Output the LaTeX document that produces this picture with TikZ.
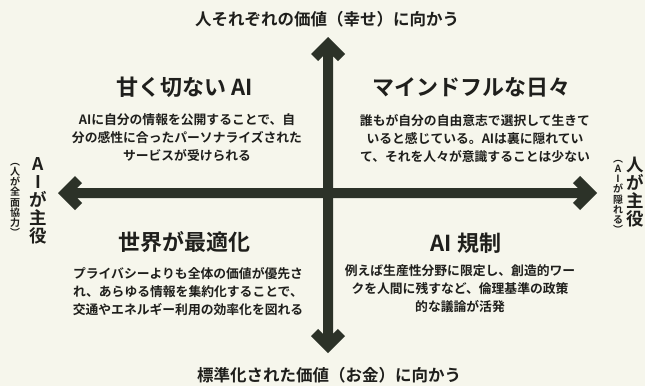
\documentclass[tikz,border=0pt]{standalone}
\usepackage{fontspec}
\setmainfont{Noto Sans CJK JP}[UprightFont=* Bold]
\usetikzlibrary{calc}
\definecolor{paper}{HTML}{F6F6EC}
\definecolor{ink}{HTML}{1F1F1C}
\definecolor{axisc}{HTML}{2C3228}
\tikzset{
  axisfill/.style={fill=axisc},
  axislabel/.style={text=ink, font=\fontsize{16.5}{18}\selectfont, inner sep=0pt},
  qtitle/.style={text=ink, font=\fontsize{22}{24}\selectfont, inner sep=0pt},
  qbody/.style={text=ink, font=\fontsize{12.8}{18}\selectfont, align=center, inner sep=0pt},
  sidebig/.style={text=ink, font=\fontsize{17.5}{18}\selectfont, align=center, inner sep=0pt},
  sidesmall/.style={text=ink, font=\fontsize{10}{10.2}\selectfont, align=center, inner sep=0pt},
}
\begin{document}
\begin{tikzpicture}[x=1pt, y=-1pt]
\fill[paper] (0,0) rectangle (645,386);
\useasboundingbox (0,0) rectangle (645,386);

% axis end points
\coordinate (N) at (328,37);
\coordinate (S) at (328,353);
\coordinate (W) at (58,193);
\coordinate (E) at (597,193);

% vertical axis arrow
\fill[axisfill] (N) -- ++(17,17) -- ++(-7.07,7.07) -- ($(N)+(5,19.14)$)
  -- ($(S)+(5,-19.14)$) -- ++(4.93,-4.93) -- ++(7.07,7.07) -- (S)
  -- ++(-17,-17) -- ++(7.07,-7.07) -- ($(S)+(-5,-19.14)$)
  -- ($(N)+(-5,19.14)$) -- ++(-4.93,4.93) -- ++(-7.07,-7.07) -- cycle;

% horizontal axis arrow
\fill[axisfill] (W) -- ++(17,-17) -- ++(7.07,7.07) -- ($(W)+(19.14,-5)$)
  -- ($(E)+(-19.14,-5)$) -- ++(-4.93,-4.93) -- ++(7.07,-7.07) -- (E)
  -- ++(-17,17) -- ++(-7.07,-7.07) -- ($(E)+(-19.14,5)$)
  -- ($(W)+(19.14,5)$) -- ++(4.93,4.93) -- ++(-7.07,7.07) -- cycle;

% axis labels
\node[axislabel] (top) at (327,19) {人それぞれの価値（幸せ）に向かう};
\node[axislabel] (bottom) at (329,375) {標準化された価値（お金）に向かう};

\node[sidebig] (leftbig) at (38,201) {A\\I\\が\\主\\役};
\node[sidesmall] (leftsmall) at (15,200) {︵\\人\\が\\全\\面\\協\\力\\︶};
\node[sidebig] (rightbig) at (635,192) {人\\が\\主\\役};
\node[sidesmall] (rightsmall) at (618,197) {︵\\A\\I\\が\\隠\\れ\\る\\︶};

% quadrant titles
\node[qtitle] (tlt) at (185,87) {甘く切ない AI};
\node[qtitle] (trt) at (471,87) {マインドフルな日々};
\node[qtitle] (blt) at (184,242) {世界が最適化};
\node[qtitle] (brt) at (466,243) {AI 規制};

% quadrant bodies
\node[qbody] (tlb) at (187,138) {AIに自分の情報を公開することで、自\\分の感性に合ったパーソナライズされた\\サービスが受けられる};
\node[qbody] (trb) at (475,139) {誰もが自分の自由意志で選択して生きて\\いると感じている。AIは裏に隠れてい\\て、それを人々が意識することは少ない};
\node[qbody] (blb) at (188,292) {プライバシーよりも全体の価値が優先さ\\れ、あらゆる情報を集約化することで、\\交通やエネルギー利用の効率化を図れる};
\node[qbody] (brb) at (460,289) {例えば生産性分野に限定し、創造的ワー\\クを人間に残すなど、倫理基準の政策\\的な議論が活発};
\end{tikzpicture}
\end{document}
